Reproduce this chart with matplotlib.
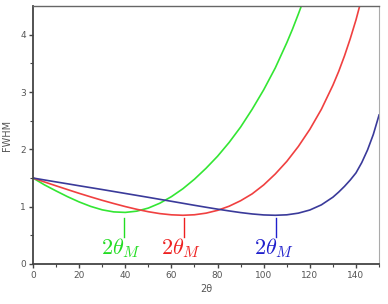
import matplotlib
matplotlib.use("Agg")
from matplotlib import pyplot as plt

plt.rcParams['mathtext.fontset'] = 'cm'

# 2theta positions (degrees), finer spacing where the curves get steep
x_green = [0, 5, 10, 15, 20, 25, 30, 35, 40, 45, 50, 55, 60, 65, 70, 75,
           80, 85, 90, 95, 100, 105, 110, 112.5, 115, 117.5, 120]
x_red = [0, 5, 10, 15, 20, 25, 30, 35, 40, 45, 50, 55, 60, 65, 70, 75,
         80, 85, 90, 95, 100, 105, 110, 115, 120, 125, 130, 132.5, 135,
         137.5, 140, 142.5, 145]
x_blue = [0, 5, 10, 15, 20, 25, 30, 35, 40, 45, 50, 55, 60, 65, 70, 75,
          80, 85, 90, 95, 100, 105, 110, 115, 120, 125, 130, 132.5, 135,
          137.5, 140, 142.5, 145, 147.5, 150]

# FWHM (curves clipped at the top of the axes)
fwhm_green = [1.50, 1.38, 1.275, 1.174, 1.083, 1.005, 0.945, 0.909, 0.900, 0.922,
              0.976, 1.061, 1.175, 1.314, 1.48, 1.67, 1.88, 2.12, 2.39, 2.70,
              3.04, 3.42, 3.86, 4.10, 4.36, 4.63, 4.92]
fwhm_red = [1.50, 1.431, 1.364, 1.298, 1.233, 1.171, 1.111, 1.055, 1.002, 0.954,
            0.912, 0.879, 0.858, 0.850, 0.859, 0.887, 0.936, 1.008, 1.104, 1.224,
            1.38, 1.57, 1.79, 2.05, 2.35, 2.70, 3.12, 3.36, 3.63,
            3.93, 4.26, 4.64, 5.10]
fwhm_blue = [1.50, 1.466, 1.432, 1.399, 1.365, 1.332, 1.299, 1.265, 1.231, 1.197,
             1.163, 1.128, 1.094, 1.059, 1.024, 0.990, 0.957, 0.926, 0.897, 0.873,
             0.856, 0.850, 0.858, 0.887, 0.942, 1.032, 1.166, 1.255, 1.354,
             1.465, 1.59, 1.77, 1.99, 2.26, 2.60]

# minimum positions 2theta_M
min_pos = [39.4, 65.4, 105.4]
label_x = [38.2, 64.2, 104.6]

colors = ['#33e633', '#f04040', '#3a3a9a']
text_colors = ['#22dd22', '#ee2020', '#2020cc']

fig = plt.figure(figsize=(3.88, 3.04), dpi=100)
ax = fig.add_axes([0.085, 0.1316, 0.892, 0.8484])

for xs, vals, c in zip([x_green, x_red, x_blue],
                       [fwhm_green, fwhm_red, fwhm_blue], colors):
    ax.plot(xs, vals, color=c, lw=1.2)

for xm, xl, tc in zip(min_pos, label_x, text_colors):
    ax.plot([xm, xm], [0.47, 0.80], color=tc, lw=1.0)
    ax.text(xl, 0.27, r'$2\theta_M$', color=tc, fontsize=16,
            ha='center', va='center')

ax.set_xlim(0, 150)
ax.set_ylim(0, 4.5)
ax.set_xticks(range(0, 141, 20))
ax.set_xticks(range(10, 151, 20), minor=True)
ax.set_yticks([0, 1, 2, 3, 4])
ax.set_yticks([0.5, 1.5, 2.5, 3.5], minor=True)

ax.tick_params(which='major', direction='out', length=3, width=1.0,
               labelsize=6.5, labelcolor='#555555', color='#444444', pad=2)
ax.tick_params(which='minor', direction='out', length=2, width=0.8, color='#444444')
ax.tick_params(top=False, right=False, which='both')

for side in ['left', 'bottom']:
    ax.spines[side].set_color('#444444')
    ax.spines[side].set_linewidth(1.3)
ax.spines['top'].set_color('#666666')
ax.spines['top'].set_linewidth(1.0)
ax.spines['right'].set_color('#aaaaaa')
ax.spines['right'].set_linewidth(0.8)

ax.set_xlabel('2θ', fontsize=7, color='#555555', labelpad=3)
ax.set_ylabel('FWHM', fontsize=7, color='#555555', labelpad=6)

fig.savefig('out.png', dpi=100)
